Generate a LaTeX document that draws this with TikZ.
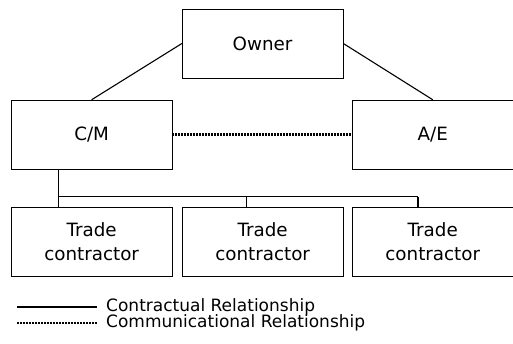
\documentclass[tikz,border=0pt]{standalone}
\usepackage{fontspec}
\setmainfont{DejaVu Sans}
\usepackage{tikz}
\usetikzlibrary{positioning}
\tikzset{party/.style={
  rectangle,
  draw,
  line width=.8pt,
  minimum width=5.65cm,
  minimum height=2.42cm,
  align=center,
  font=\fontsize{18.3}{24}\selectfont}}
\tikzset{contract/.style={line width=1.1pt}}
\tikzset{comm/.style={line width=2.6pt, dash pattern=on 2pt off 1pt}}
\tikzset{legendtext/.style={anchor=west, inner xsep=9pt, font=\fontsize{17}{20}\selectfont}}
\begin{document}
\begin{tikzpicture}
    \useasboundingbox (0, 0) rectangle (18.03, 12.09);
    \node[party] at (9.23, 10.56) (owner) {Owner};
    \node[party] at (3.22, 7.36) (cm) {C/M};
    \node[party] at (15.21, 7.36) (ae) {A/E};
    \node[party] at (3.22, 3.585) (t1) {Trade\\contractor};
    \node[party] at (9.23, 3.585) (t2) {Trade\\contractor};
    \node[party] at (15.21, 3.585) (t3) {Trade\\contractor};

    \coordinate (b1) at (2.07, 5.17);
    \coordinate (b2) at (8.65, 5.17);
    \coordinate (b3) at (14.69, 5.17);

    \draw[contract] (owner.west) -- (cm.north);
    \draw[contract] (owner.east) -- (ae.north);
    \draw[comm] (cm.east) -- (ae.west);
    \draw[contract] (cm.south -| b1) -- (b1) -- (b3);
    \draw[contract] (b1) -- (t1.north -| b1);
    \draw[contract] (b2) -- (t2.north -| b2);
    \draw[contract] (b3) -- (t3.north -| b3);

    % legend
    \coordinate (l1) at (0.60, 1.30);
    \coordinate (l2) at (0.60, 0.74);
    \node at (3.41, 1.30) [legendtext] (lc) {Contractual Relationship};
    \node at (3.41, 0.74) [legendtext] (lm) {Communicational Relationship};
    \draw[contract] (l1) -- (lc.west);
    \draw[comm] (l2) -- (lm.west);
  \end{tikzpicture}
\end{document}
